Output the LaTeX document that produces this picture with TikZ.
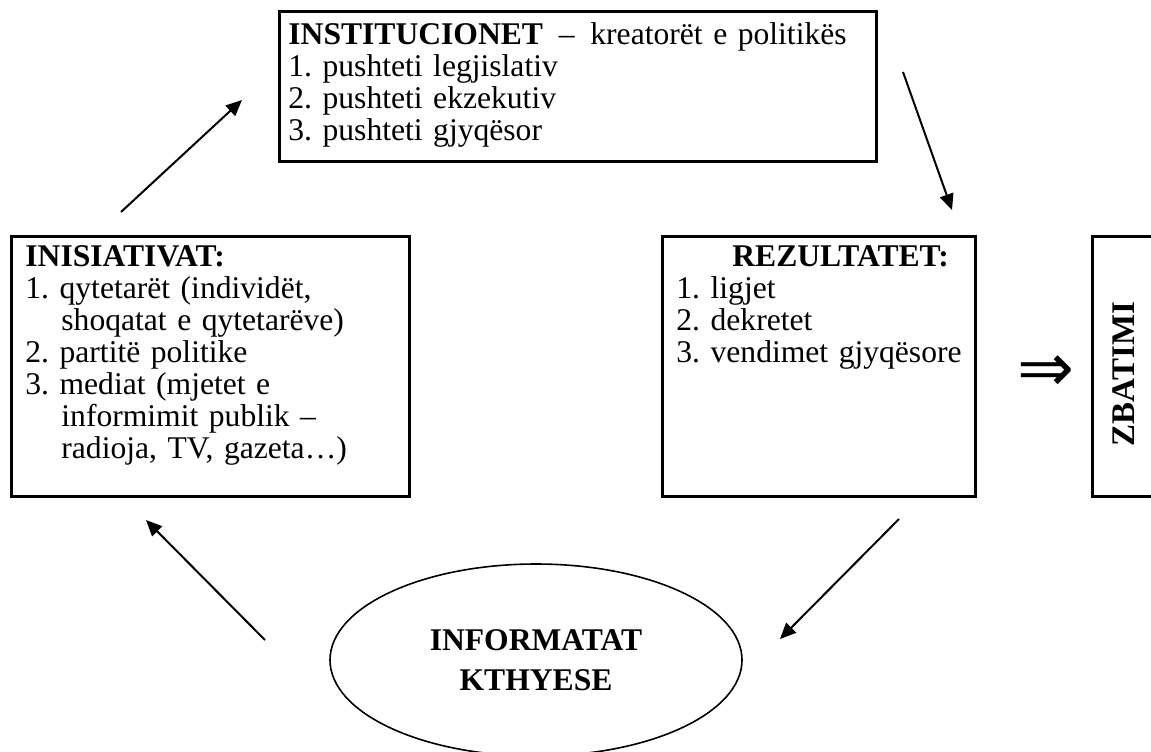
\documentclass[tikz,border=0pt]{standalone}
\usepackage{fontspec}
\setmainfont{Liberation Serif}
\newfontfamily\arrowfont{DejaVu Sans}
\usetikzlibrary{shapes.geometric, arrows.meta}

\begin{document}
\begin{tikzpicture}[x=0.5pt, y=-0.5pt,
    box/.style={draw, line width=1.3pt, inner sep=0pt, anchor=north west},
    txt/.style={anchor=base west, inner sep=0pt, align=left,
      font=\fontsize{15.8}{16}\selectfont\frenchspacing},
    arr/.style={-{Triangle[length=8pt, width=7pt]}, line width=1pt}]
    \useasboundingbox (0, 0) rectangle (1151, 751);
    % Boxes
    \node[box, minimum width=298.5pt, minimum height=75pt] (inst) at (278, 10) {};
    \node[box, minimum width=199pt, minimum height=130pt] (ini) at (10, 235) {};
    \node[box, minimum width=156.5pt, minimum height=130pt] (rez) at (661, 235) {};
    \node[box, minimum width=30pt, minimum height=130pt] (zb) at (1091, 235) {};
    % Texts in the boxes
    \node[txt, text width=300pt] (insttxt) at (288, 44)
      {\textbf{INSTITUCIONET} \,–\, kreatorët e politikës\\
       1. pushteti legjislativ\\
       2. pushteti ekzekutiv\\
       3. pushteti gjyqësor};
    \node[txt, text width=190pt] (initxt) at (25, 266)
      {\textbf{INISIATIVAT:}\\
       1. qytetarët (individët,\\
       \hspace*{1.14em}shoqatat e qytetarëve)\\
       2. partitë politike\\
       3. mediat (mjetet e\\
       \hspace*{1.14em}informimit publik –\\
       \hspace*{1.14em}radioja, TV, gazeta…)};
    \node[txt, text width=150pt] (reztxt) at (676, 266)
      {\hspace*{28pt}\textbf{REZULTATET:}\\
       1. ligjet\\
       2. dekretet\\
       3. vendimet gjyqësore};
    \node[rotate=90, inner sep=0pt, font=\fontsize{16.5}{16}\selectfont\bfseries]
      (zbtxt) at (1124, 374) {ZBATIMI};
    % Implication sign
    \node[inner sep=0pt, font=\fontsize{34}{34}\arrowfont] (impl) at (1046, 374) {⇒};
    % Feedback
    \node[draw, ellipse, line width=0.8pt, minimum width=206pt, minimum height=96pt,
      align=center, font=\fontsize{15.8}{16}\selectfont\bfseries] (info) at (536, 660)
      {INFORMATAT\\[4pt]KTHYESE};
    % Arrows of the cycle
    \coordinate (a1s) at (121, 212);
    \coordinate (a1e) at (242, 100);
    \coordinate (a2s) at (903, 72);
    \coordinate (a2e) at (952, 210);
    \coordinate (a3s) at (899, 519);
    \coordinate (a3e) at (780, 639);
    \coordinate (a4s) at (265, 640);
    \coordinate (a4e) at (146, 520);
    \draw[arr] (a1s) -- (a1e);
    \draw[arr] (a2s) -- (a2e);
    \draw[arr] (a3s) -- (a3e);
    \draw[arr] (a4s) -- (a4e);
\end{tikzpicture}
\end{document}
